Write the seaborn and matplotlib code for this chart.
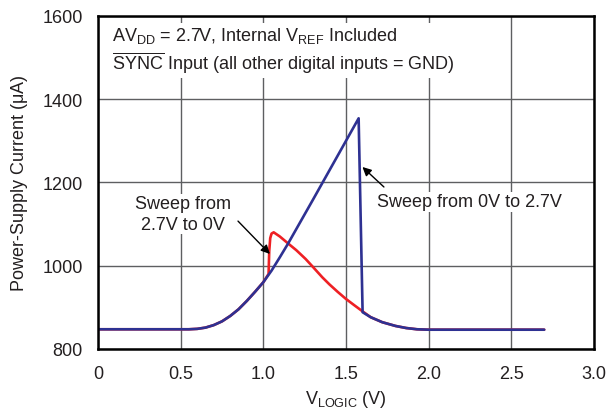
import numpy as np
import pandas as pd
import seaborn as sns
import matplotlib.pyplot as plt

# sweep 0V -> 2.7V (blue)
up_v = [0, 0.5, 0.55, 0.6, 0.65, 0.7, 0.75, 0.8, 0.85, 0.9, 0.95, 1.0, 1.05,
        1.1, 1.15, 1.2, 1.25, 1.3, 1.577, 1.601, 1.65, 1.72, 1.8, 1.865, 1.93,
        2.0, 2.7]
up_i = [847, 847, 847, 848, 851, 857, 866, 879, 895, 915, 937, 960, 988,
        1020, 1053, 1088, 1123, 1158, 1354, 888, 876, 864, 855, 850, 847,
        846, 846]

# sweep 2.7V -> 0V (red)
down_v = [0, 0.5, 0.55, 0.6, 0.65, 0.7, 0.75, 0.8, 0.85, 0.9, 0.95, 1.0, 1.032,
          1.036, 1.042, 1.05, 1.063, 1.1, 1.154, 1.2, 1.256, 1.3, 1.357, 1.4,
          1.45, 1.5, 1.55, 1.601, 1.65, 1.72, 1.8, 1.865, 1.93, 2.0, 2.7]
down_i = [847, 847, 847, 848, 851, 857, 866, 879, 895, 915, 937, 960, 980,
          1035, 1066, 1077, 1080, 1070, 1052, 1037, 1016, 997, 972, 955,
          937, 920, 905, 890, 876, 864, 855, 850, 847, 846, 846]

x_ticks = [0, 0.5, 1.0, 1.5, 2.0, 2.5, 3.0]
x_labels = ["0", "0.5", "1.0", "1.5", "2.0", "2.5", "3.0"]
y_ticks = [800, 1000, 1200, 1400, 1600]

sns.set_style("white")
plt.rcParams['font.family'] = ['Liberation Sans', 'DejaVu Sans']
plt.rcParams['mathtext.fontset'] = 'custom'
plt.rcParams['mathtext.rm'] = 'Liberation Sans'
plt.rcParams['mathtext.it'] = 'Liberation Sans'

red = "#ee2024"
blue = "#2e3192"
ink = "#231f20"
fs = 13

fig = plt.figure(figsize=(6.09, 4.14), dpi=100)
ax = fig.add_axes([0.161, 0.155, 0.814, 0.804])

down = pd.DataFrame({"v": down_v, "i": down_i})
up = pd.DataFrame({"v": up_v, "i": up_i})
sns.lineplot(data=down, x="v", y="i", sort=False, estimator=None, color=red, lw=1.9, ax=ax)
sns.lineplot(data=up, x="v", y="i", sort=False, estimator=None, color=blue, lw=1.9, ax=ax)

ax.set_xlim(0, 3.0)
ax.set_ylim(800, 1600)
ax.set_xticks(x_ticks)
ax.set_xticklabels(x_labels)
ax.set_yticks(y_ticks)
ax.grid(True, color="#5e5f61", lw=1.0)
ax.set_axisbelow(True)
for s in ax.spines.values():
    s.set_color("black")
    s.set_linewidth(1.8)
ax.tick_params(length=0, labelsize=fs, colors=ink)
ax.tick_params(axis="x", pad=12)
ax.tick_params(axis="y", pad=11)

ax.set_xlabel(r"$\mathrm{V_{LOGIC}}$ (V)", fontsize=fs, color=ink, labelpad=4)
ax.set_ylabel(r"Power-Supply Current ($\mu$A)", fontsize=fs, color=ink, labelpad=9)

ax.text(0.085, 1578,
        r"$\mathrm{AV_{DD}}$ = 2.7V, Internal $\mathrm{V_{REF}}$ Included" "\n"
        r"$\overline{\mathrm{SYNC}}$ Input (all other digital inputs = GND)",
        fontsize=fs, color=ink, va="top", ha="left", linespacing=1.25,
        bbox=dict(facecolor="white", edgecolor="none", pad=2))

# left annotation
ax.text(0.514, 1124, "Sweep from\n2.7V to 0V", ha="center", va="center",
        fontsize=fs, color=ink, linespacing=1.25,
        bbox=dict(facecolor="white", edgecolor="none", pad=1))
ax.annotate("", xy=(1.04, 1028), xytext=(0.847, 1107),
            arrowprops=dict(arrowstyle="-|>", color="black", lw=1, shrinkA=0, shrinkB=0,
                            mutation_scale=13))

# right annotation
ax.text(1.688, 1153, "Sweep from 0V to 2.7V", ha="left", va="center",
        fontsize=fs, color=ink,
        bbox=dict(facecolor="white", edgecolor="none", pad=1))
ax.annotate("", xy=(1.6, 1237), xytext=(1.73, 1189),
            arrowprops=dict(arrowstyle="-|>", color="black", lw=1, shrinkA=0, shrinkB=0,
                            mutation_scale=13))

fig.savefig("out.png", dpi=100)
